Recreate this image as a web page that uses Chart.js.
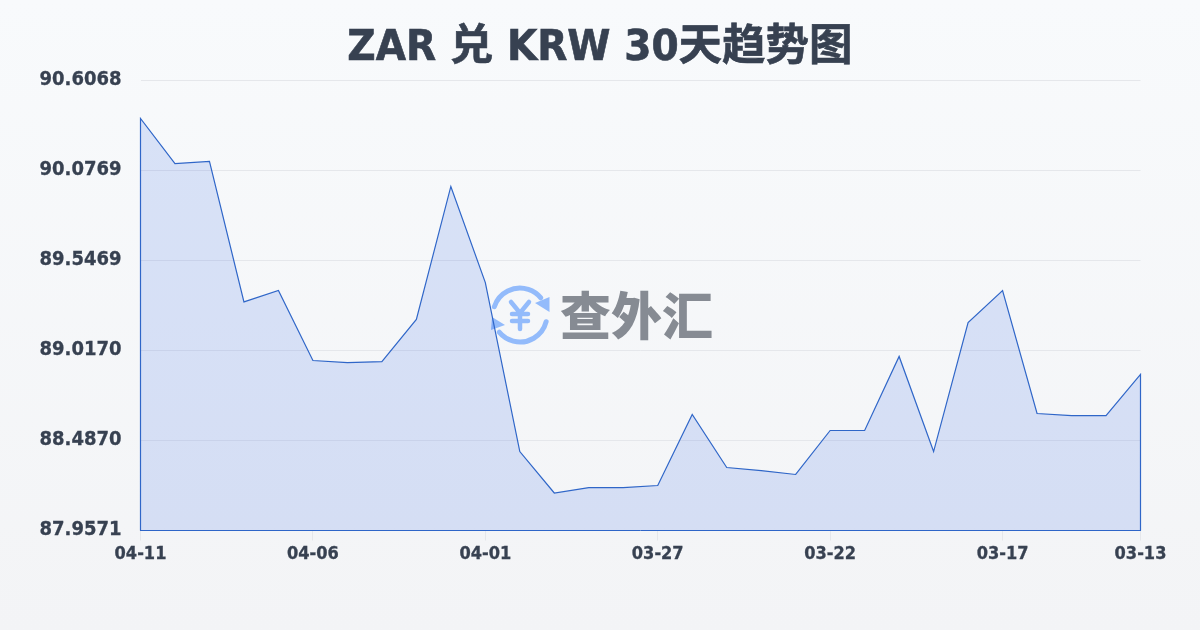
<!DOCTYPE html>
<html lang="zh">
<head>
<meta charset="UTF-8">
<title>ZAR 兑 KRW 30天趋势图</title>
<script src="https://cdn.jsdelivr.net/npm/chart.js"></script>
<style>
    body {
        margin: 0;
        width: 1200px;
        height: 630px;
        overflow: hidden;
        position: relative;
        background: linear-gradient(180deg, #f8fafc 0%, #f3f4f6 100%);
    }
    canvas { display: block; }
    h1 {
        position: absolute;
        left: 0;
        top: 15px;
        width: 1200px;
        margin: 0;
        text-align: center;
        font: bold 43.5px/60px "DejaVu Sans Condensed", "Noto Sans CJK SC", sans-serif;
        color: #374151;
        -webkit-text-stroke: 0.6px #374151;
    }
</style>
</head>
<body>
<h1>ZAR 兑 KRW 30天趋势图</h1>
<canvas id="trendChart" width="1200" height="630"></canvas>
<script>
// newest day first, the chart runs backwards in time
const dates = ['04-11', '04-10', '04-09', '04-08', '04-07', '04-06', '04-05', '04-04', '04-03', '04-02',
    '04-01', '03-31', '03-30', '03-29', '03-28', '03-27', '03-26', '03-25', '03-24', '03-23',
    '03-22', '03-21', '03-20', '03-19', '03-18', '03-17', '03-16', '03-15', '03-14', '03-13'];
const rates = [90.383, 90.118, 90.130, 89.303, 89.370, 88.958, 88.946, 88.952, 89.200, 89.983,
    89.417, 88.422, 88.178, 88.210, 88.210, 88.222, 88.640, 88.328, 88.310, 88.287,
    88.546, 88.546, 88.982, 88.422, 89.182, 89.370, 88.646, 88.634, 88.634, 88.876];
const yTicks = [87.9571, 88.4870, 89.0170, 89.5469, 90.0769, 90.6068];
const xTicks = ['04-11', '04-06', '04-01', '03-27', '03-22', '03-17', '03-13'];

const textColor = '#374151';
const lineColor = '#2f66c8';
const fontFamily = '"DejaVu Sans Condensed", "Noto Sans CJK SC", sans-serif';

// outline goes down to the axis at both ends, the x axis border closes the bottom
const outline = [{ x: 0, y: yTicks[0] }]
    .concat(rates.map((v, i) => ({ x: i, y: v })))
    .concat([{ x: rates.length - 1, y: yTicks[0] }]);

// logo and name sit behind the data
const watermark = {
    id: 'watermark',
    beforeDatasetsDraw(chart) {
        const ctx = chart.ctx;
        ctx.save();
        ctx.strokeStyle = '#93bbfb';
        ctx.fillStyle = '#93bbfb';
        ctx.lineWidth = 5;
        ctx.lineCap = 'round';
        ctx.beginPath();
        ctx.arc(520, 315, 27, Math.PI * 1.1, Math.PI * 1.78);
        ctx.stroke();
        ctx.beginPath();
        ctx.arc(520, 315, 27, Math.PI * 0.08, Math.PI * 0.78);
        ctx.stroke();
        ctx.beginPath();
        ctx.moveTo(549.5, 297);
        ctx.lineTo(549.5, 312);
        ctx.lineTo(535, 303);
        ctx.closePath();
        ctx.fill();
        ctx.beginPath();
        ctx.moveTo(492, 317);
        ctx.lineTo(491, 330);
        ctx.lineTo(505, 325);
        ctx.closePath();
        ctx.fill();
        // yen sign
        ctx.lineWidth = 4.5;
        ctx.beginPath();
        ctx.moveTo(511, 302);
        ctx.lineTo(520, 313);
        ctx.lineTo(529, 302);
        ctx.moveTo(520, 313);
        ctx.lineTo(520, 329);
        ctx.moveTo(512, 314);
        ctx.lineTo(528, 314);
        ctx.moveTo(512, 321);
        ctx.lineTo(528, 321);
        ctx.stroke();
        ctx.fillStyle = '#868b93';
        ctx.font = '900 51px "Noto Sans CJK SC"';
        ctx.textAlign = 'left';
        ctx.textBaseline = 'middle';
        ctx.fillText('查外汇', 560, 316);
        ctx.restore();
    }
};

new Chart(document.getElementById('trendChart'), {
    type: 'line',
    data: {
        datasets: [{
            data: outline,
            borderColor: lineColor,
            borderWidth: 1.2,
            backgroundColor: 'rgba(37, 95, 225, 0.15)',
            fill: 'start',
            pointRadius: 0,
            tension: 0,
            clip: false
        }]
    },
    options: {
        responsive: false,
        animation: false,
        layout: { padding: { right: 59.5, top: 80.5, bottom: 59.5 } },
        plugins: {
            legend: { display: false },
            tooltip: { enabled: false },
            title: { display: false }
        },
        scales: {
            x: {
                type: 'linear',
                min: 0,
                max: rates.length - 1,
                afterBuildTicks(axis) {
                    axis.ticks = xTicks.map(d => ({ value: dates.indexOf(d) }));
                },
                afterFit(axis) { axis.height = 40; },
                ticks: {
                    autoSkip: false,
                    maxRotation: 0,
                    color: textColor,
                    textStrokeColor: textColor,
                    textStrokeWidth: 0.3,
                    font: { size: 18, weight: 'bold', family: fontFamily },
                    callback: v => dates[v]
                },
                grid: { color: '#e5e7eb', drawOnChartArea: false, tickLength: 10 },
                border: { display: true, color: lineColor, width: 1 }
            },
            y: {
                min: yTicks[0],
                max: yTicks[yTicks.length - 1],
                afterBuildTicks(axis) {
                    axis.ticks = yTicks.map(v => ({ value: v }));
                },
                afterFit(axis) { axis.width = 140.5; },
                ticks: {
                    color: textColor,
                    textStrokeColor: textColor,
                    textStrokeWidth: 0.3,
                    padding: 19,
                    labelOffset: -1,
                    font: { size: 20, weight: 'bold', family: fontFamily },
                    callback: v => v.toFixed(4)
                },
                grid: { color: '#e5e7eb', drawTicks: false },
                border: { display: false }
            }
        }
    },
    plugins: [watermark]
});
</script>
</body>
</html>
